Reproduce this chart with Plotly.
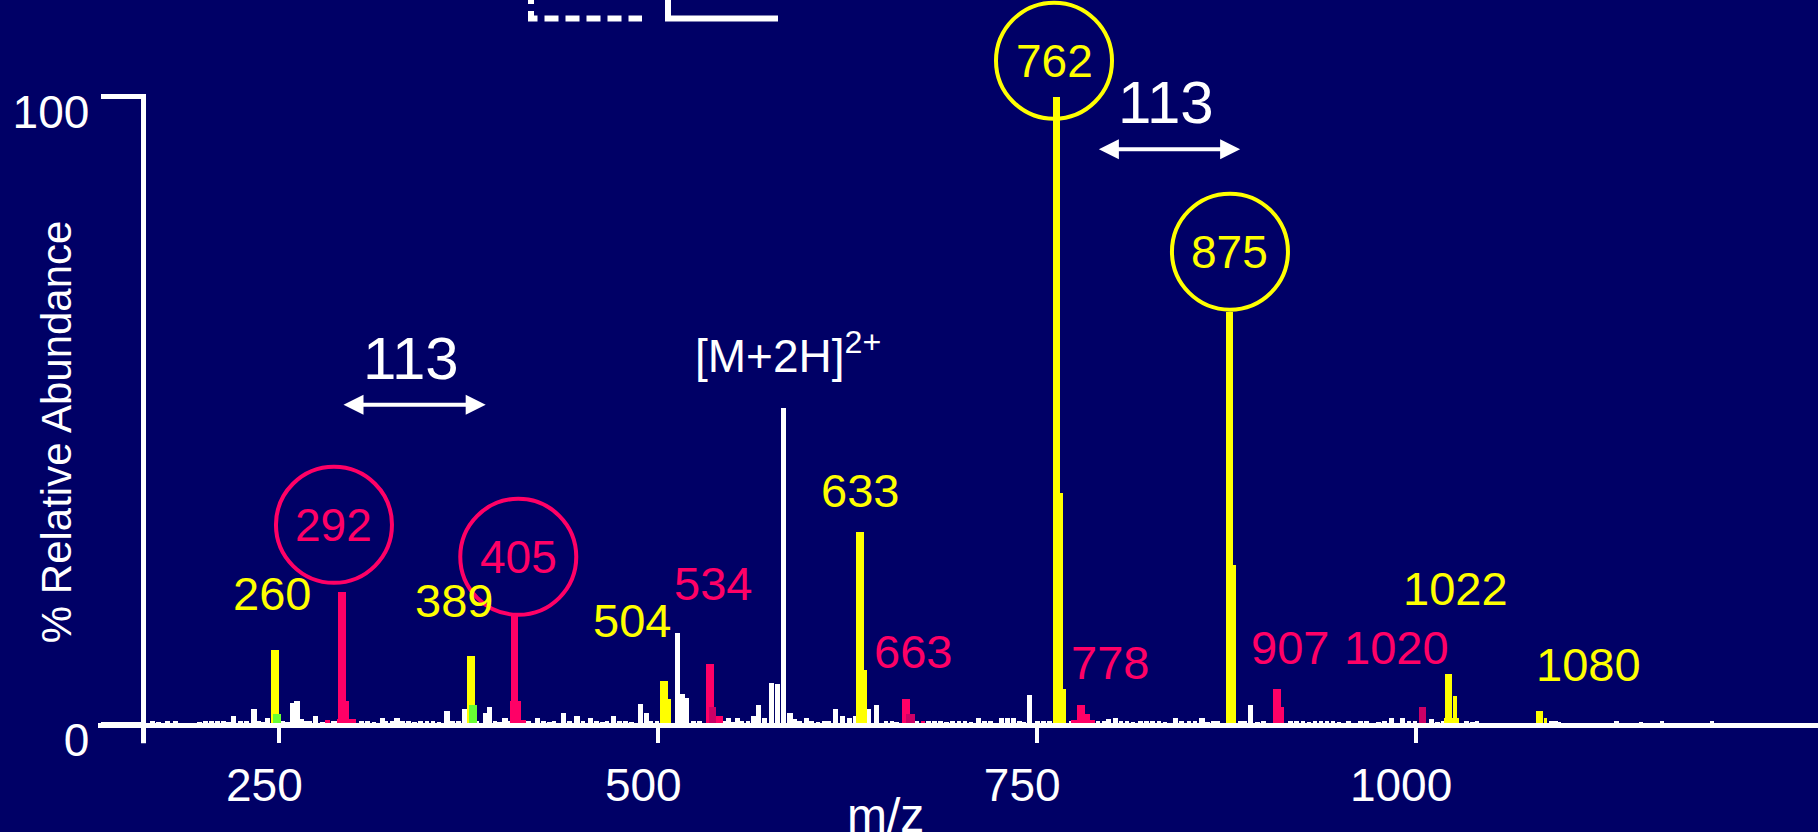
import plotly.graph_objects as go

W, H = 1818, 832

# ------------------------------------------------------------------ data
# labelled fragment peaks (m/z as drawn, % relative abundance)
yellow_mz = [246.9, 376.2, 503.5, 632.9, 762.4, 876.6, 1021.2, 1081.3]
yellow_int = [11.9, 10.9, 7.0, 30.7, 100.0, 65.7, 8.0, 2.1]
yellow_iso_mz = [507.0, 636.4, 765.7, 767.7, 879.6, 1025.4, 1023.1, 1085.0]
yellow_iso_int = [4.1, 8.6, 36.8, 5.7, 25.4, 4.5, 1.1, 1.1]

pink_mz = [291.1, 404.8, 533.9, 663.1, 778.7, 907.9]
pink_int = [21.1, 17.4, 9.6, 4.1, 3.1, 5.7]
pink_iso_mz = [293.5, 294.0, 405.5, 410.5, 540.2, 780.0, 783.0, 911.6, 281.2, 674.3]
pink_iso_int = [3.7, 0.8, 3.7, 0.7, 1.4, 0.7, 1.7, 2.8, 0.7, 0.5]

dark_mz = [535.4, 665.9, 1004.0]
dark_int = [2.8, 1.7, 2.8]

green_mz = [248.3, 377.7]
green_int = [1.75, 3.1]

# unassigned (white) peaks
white_mz = [219.5, 233.0, 242.0, 258.4, 261.3, 264.2, 273.7, 317.8, 327.4, 360.3,
            371.7, 385.7, 388.3, 398.6, 420.0, 437.0, 446.0, 455.0, 470.3, 488.2,
            491.9, 512.2, 515.5, 518.5, 546.2, 552.0, 562.7, 566.0, 570.0, 574.5,
            578.6, 582.4, 586.7, 589.5, 597.5, 616.5, 621.5, 626.0, 630.0, 638.6,
            643.7, 711.0, 726.0, 730.0, 734.0, 744.7, 797.0, 801.5, 840.8, 858.5,
            890.4, 983.3, 990.7, 1010.0, 1091.4]
white_int = [1.4, 2.4, 1.1, 3.4, 3.7, 0.9, 1.4, 1.1, 1.1, 2.1,
             2.4, 1.8, 2.8, 1.1, 1.1, 1.8, 1.4, 1.1, 1.4, 3.3,
             1.8, 14.5, 4.8, 4.2, 1.1, 1.1, 1.4, 3.1, 1.1, 6.6,
             6.4, 50.4, 1.8, 0.9, 1.1, 2.4, 1.4, 1.1, 1.4, 2.4,
             3.1, 1.1, 1.1, 1.1, 1.1, 4.7, 0.8, 1.1, 1.1, 1.1,
             3.1, 1.1, 1.1, 0.9, 0.6]

# baseline noise
noise_mz = [166, 170, 176, 181, 197, 201, 205, 209, 213, 216, 224, 228, 236, 239,
            252, 255, 267, 270, 278, 285, 288, 296, 299, 304, 308, 312, 320, 324,
            331, 335, 339, 343, 347, 351, 355, 364, 368, 380, 392, 395, 402, 407,
            414, 424, 428, 431, 441, 450, 459, 463, 466, 474, 478, 482, 495, 499,
            523, 527, 543, 549, 555, 559, 593, 601, 605, 609, 612, 650, 654, 657,
            670, 678, 682, 686, 690, 694, 698, 702, 706, 715, 719, 738, 741, 750,
            754, 758, 772, 786, 790, 794, 805, 809, 813, 818, 822, 826, 830, 834,
            845, 850, 854, 862, 866, 869, 884, 887, 895, 899, 917, 921, 925, 929,
            933, 937, 941, 945, 949, 955, 963, 967, 975, 979, 995, 999, 1014, 1018,
            1033, 1037, 1040, 1089, 1094, 1132, 1148, 1162, 1195]
noise_int = [0.5, 0.4, 0.5, 0.5, 0.4, 0.5, 0.5, 0.6, 0.5, 0.4, 0.5, 0.5, 0.6, 0.4,
             0.5, 0.4, 0.5, 0.6, 0.4, 0.5, 0.5, 0.6, 0.4, 0.5, 0.5, 0.4, 0.5, 0.6,
             0.5, 0.5, 0.4, 0.5, 0.5, 0.6, 0.4, 0.5, 0.5, 0.6, 0.5, 0.4, 0.5, 0.5,
             0.6, 0.5, 0.4, 0.5, 0.6, 0.5, 0.5, 0.4, 0.5, 0.6, 0.5, 0.4, 0.5, 0.5,
             0.5, 0.6, 0.5, 0.4, 0.5, 0.5, 0.6, 0.5, 0.4, 0.5, 0.5, 0.5, 0.6, 0.4,
             0.5, 0.6, 0.5, 0.5, 0.4, 0.5, 0.6, 0.5, 0.4, 0.5, 0.5, 0.6, 0.4, 0.5,
             0.5, 0.6, 0.5, 0.4, 0.5, 0.5, 0.6, 0.5, 0.4, 0.5, 0.6, 0.5, 0.5, 0.4,
             0.5, 0.6, 0.5, 0.4, 0.5, 0.5, 0.6, 0.5, 0.4, 0.5, 0.5, 0.6, 0.5, 0.4,
             0.5, 0.5, 0.6, 0.5, 0.4, 0.5, 0.5, 0.6, 0.4, 0.5, 0.5, 0.6, 0.4, 0.5,
             0.5, 0.4, 0.5, 0.5, 0.4, 0.5, 0.4, 0.5, 0.5]

label_text = ["260", "389", "504", "534", "633", "663", "778", "907", "1020", "1022", "1080"]
circled_text = ["292", "405", "762", "875"]
x_ticks = [250, 500, 750, 1000]
y_ticks = [0, 100]

# ------------------------------------------------------------------ styles
BG = "#000066"
YEL = "#FFFF00"
PNK = "#FF0066"
DRK = "#CC0066"
GRN = "#66FF33"
WHT = "#FFFFFF"
FONT = "Liberation Sans, Arial, sans-serif"

yellow_iso_w = [2.5, 2.3, 2.6, 2.6, 3.0, 3.0, 10.0, 1.6]
pink_iso_w = [4.4, 13.0, 7.0, 3.3, 4.2, 16.0, 3.4, 2.1, 3.3, 2.6]
dark_w = [4.9, 6.1, 5.1]

# layout positions (annotation anchors in data units)
label_pos = [(245.4, 20.8), (365.2, 19.8), (482.7, 16.6), (536.1, 22.4), (633.1, 37.2),
             (668.1, 11.6), (798.1, 9.8), (916.5, 12.3), (987.4, 12.3), (1025.9, 21.6),
             (1114.0, 9.6)]
label_col = [YEL, YEL, YEL, PNK, YEL, PNK, PNK, PNK, PNK, YEL, YEL]
circle_pos = [(286.0, 31.8), (407.6, 26.7), (761.1, 105.7), (877.2, 75.3)]
circle_col = [PNK, PNK, YEL, YEL]
R = 58

X_RANGE = [130.04, 1265.2]
X_DOMAIN0 = 97.6 / W
Y_RANGE = [-17.12, 115.37]
X_AXIS_POS = (H - 724.5) / H
Y_AXIS_POS = 143.5 / W
Y_AXIS_MZ = 160.33

fig = go.Figure()


def add_bars(xs, ys, width, color):
    fig.add_trace(go.Bar(x=xs, y=ys, width=width, marker=dict(color=color, line=dict(width=0)),
                         hoverinfo="x+y", showlegend=False))


add_bars(noise_mz, noise_int, 3.0, WHT)
add_bars(white_mz, white_int, 3.5, WHT)
add_bars(yellow_iso_mz, yellow_iso_int, yellow_iso_w, YEL)
add_bars(yellow_mz, yellow_int, 5.0, YEL)
add_bars(pink_iso_mz, pink_iso_int, pink_iso_w, PNK)
add_bars(pink_mz, pink_int, 5.0, PNK)
add_bars(dark_mz, dark_int, dark_w, DRK)
add_bars(green_mz, green_int, 5.2, GRN)

shapes = []
# y axis line
shapes.append(dict(type="line", xref="x", yref="y", x0=Y_AXIS_MZ, x1=Y_AXIS_MZ, y0=-3.0, y1=100.4,
                   line=dict(color=WHT, width=5)))
# circles
for (cx, cy), col in zip(circle_pos, circle_col):
    shapes.append(dict(type="circle", xref="x", yref="y", xsizemode="pixel", ysizemode="pixel",
                       xanchor=cx, yanchor=cy, x0=-R, x1=R, y0=-R, y1=R,
                       line=dict(color=col, width=4), fillcolor="rgba(0,0,0,0)", layer="above"))


def pxx(p):
    return p / W


def pxy(p):
    return 1 - p / H


# legend fragments at the top
shapes.append(dict(type="path", xref="paper", yref="paper",
                   path=f"M {pxx(531)},{pxy(-10)} L {pxx(531)},{pxy(18.5)} L {pxx(642)},{pxy(18.5)}",
                   line=dict(color=WHT, width=6, dash="14px,7px")))
shapes.append(dict(type="path", xref="paper", yref="paper",
                   path=f"M {pxx(668)},{pxy(-10)} L {pxx(668)},{pxy(18.5)} L {pxx(778)},{pxy(18.5)}",
                   line=dict(color=WHT, width=6)))

ann = []
for t, (x, y), c in zip(label_text, label_pos, label_col):
    ann.append(dict(x=x, y=y, xref="x", yref="y", text=t, showarrow=False,
                    font=dict(size=47, color=c, family=FONT), xanchor="center", yanchor="middle"))
for t, (x, y), c in zip(circled_text, circle_pos, circle_col):
    ann.append(dict(x=x, y=y, xref="x", yref="y", text=t, showarrow=False,
                    font=dict(size=46, color=c, family=FONT), xanchor="center", yanchor="middle"))

# 113 spacings
for (tx, ty), (a0, a1, ay) in [((336.6, 58.3), (291.3, 386.1, 50.9)),
                                ((834.9, 99.0), (789.7, 883.9, 91.6))]:
    ann.append(dict(x=tx, y=ty, xref="x", yref="y", text="113", showarrow=False,
                    font=dict(size=60, color=WHT, family=FONT)))
    ann.append(dict(x=a1, y=ay, ax=a0, ay=ay, xref="x", yref="y", axref="x", ayref="y",
                    text="", showarrow=True, arrowhead=2, arrowside="end+start",
                    arrowwidth=4, arrowsize=1, arrowcolor=WHT, standoff=0, startstandoff=0))

ann.append(dict(x=522.9, y=54.2, xref="x", yref="y", xanchor="left", yanchor="bottom",
                text="[M+2H]<sup>2+</sup>", showarrow=False,
                font=dict(size=46, color=WHT, family=FONT)))
ann.append(dict(x=650.0, y=-0.014, xref="x", yref="paper", xanchor="center", yanchor="bottom",
                text="m/z", showarrow=False, font=dict(size=48, color=WHT, family=FONT)))
ann.append(dict(x=56.7 / W, y=(H - 431.5) / H, xref="paper", yref="paper", textangle=-90,
                xanchor="center", yanchor="middle",
                text="% Relative Abundance", showarrow=False,
                font=dict(size=42, color=WHT, family=FONT)))

fig.update_layout(
    width=W, height=H, margin=dict(l=0, r=0, t=0, b=0),
    paper_bgcolor=BG, plot_bgcolor=BG, barmode="overlay", bargap=0,
    showlegend=False, shapes=shapes, annotations=ann,
    font=dict(family=FONT, color=WHT),
    xaxis=dict(domain=[X_DOMAIN0, 1], range=X_RANGE, anchor="free", position=X_AXIS_POS,
               showgrid=False, zeroline=False, showline=True, linecolor=WHT, linewidth=5,
               tickvals=x_ticks, ticktext=[str(v) for v in x_ticks], ticks="outside",
               ticklen=15, tickwidth=4, tickcolor=WHT, ticklabelshift=-15, ticklabelstandoff=3,
               tickfont=dict(size=46, color=WHT, family=FONT)),
    yaxis=dict(domain=[0, 1], range=Y_RANGE, anchor="free", position=Y_AXIS_POS,
               showgrid=False, zeroline=False, showline=False,
               tickvals=y_ticks, ticktext=[str(v) for v in y_ticks], ticks="outside",
               ticklen=43, tickwidth=5, tickcolor=WHT, ticklabelshift=15, ticklabelstandoff=2,
               tickfont=dict(size=46, color=WHT, family=FONT)),
)

fig.write_html("out.html", config={"displayModeBar": False},
               post_script="document.body.style.margin='0';document.body.style.overflow='hidden';")
